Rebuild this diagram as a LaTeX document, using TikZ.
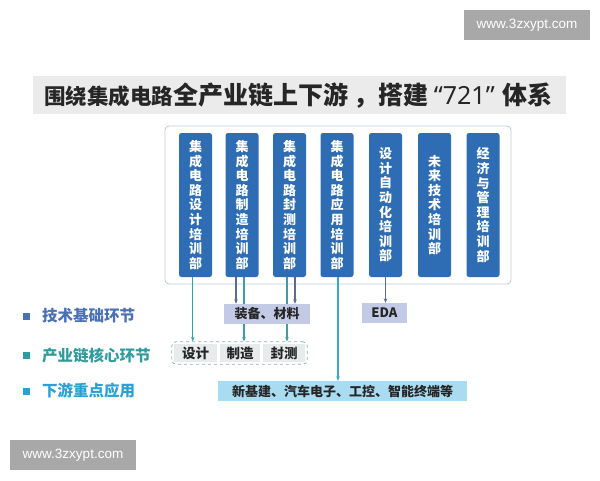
\documentclass[tikz,border=0pt]{standalone}
\usepackage{fontspec}
\setmainfont{Noto Sans CJK SC}
\newfontfamily\wmfont{Liberation Sans}
\newfontfamily\latinb{Noto Sans}
\usetikzlibrary{arrows.meta,fit,backgrounds}
\definecolor{colBlue}{HTML}{2E6DB3}
\definecolor{frameGray}{HTML}{C5CDD3}
\definecolor{tealLine}{HTML}{3B9EA6}
\definecolor{slateLine}{HTML}{5B6C8E}
\definecolor{cyanLine}{HTML}{36A8C8}
\definecolor{eqFill}{HTML}{C3CAE6}
\definecolor{appFill}{HTML}{A9DCF1}
\definecolor{cellFill}{HTML}{E6ECEB}
\definecolor{dashCol}{HTML}{8CB3B3}
\definecolor{labA}{HTML}{4A70B5}
\definecolor{labB}{HTML}{2E9B9E}
\definecolor{labC}{HTML}{2BA0D6}
\definecolor{wmGray}{HTML}{A8A8A8}
\definecolor{titleBand}{HTML}{EBEBEB}
\definecolor{darkText}{HTML}{262626}
\tikzset{
  colbox/.style={fill=colBlue, rounded corners=2.5pt, minimum width=33pt, minimum height=144pt,
    inner sep=0pt, text=white, font=\bfseries\fontsize{13}{14.6}\selectfont, align=center, text width=20pt},
  lowbox/.style={inner sep=0pt, minimum height=20pt, text=darkText, font=\bfseries\fontsize{13}{15}\selectfont},
  cellbox/.style={fill=cellFill, inner sep=0pt, minimum height=18pt, text=darkText, font=\bfseries\fontsize{13.5}{15}\selectfont},
  sq/.style={minimum size=7pt, inner sep=0pt},
  lab/.style={anchor=west, inner sep=0pt, font=\bfseries\fontsize{15.5}{17}\selectfont},
  wm/.style={fill=wmGray, minimum width=126pt, minimum height=30pt, inner sep=0pt, text=white, font=\wmfont\fontsize{13.5}{15}\selectfont},
  conn/.style={line width=1.2pt, -{Stealth[length=4.5pt,width=3.6pt]}},
}
\begin{document}
\begin{tikzpicture}[x=1pt,y=-1pt]
\useasboundingbox (0,0) rectangle (600,480);
% watermarks
\node[wm] (wmtop) at (527,25) {www.3zxypt.com};
\node[wm] (wmbot) at (73,455) {www.3zxypt.com};
% title
\node[fill=titleBand, minimum width=533pt, minimum height=38pt, inner sep=0pt] (band) at (299.5,94.5) {};
\node[anchor=west, inner sep=0pt, text=darkText, font=\bfseries] (title) at (44,96)
  {{\fontsize{21.5}{24}\selectfont 围绕集成电路}{\fontsize{25}{28}\selectfont 全产业链上下游 ，搭建\hspace{5pt}{\latinb\bfseries “721”}\hspace{8pt}体系}};
% columns
\node[colbox] (c1) at (195.5,205) {集\\成\\电\\路\\设\\计\\培\\训\\部};
\node[colbox] (c2) at (242,205) {集\\成\\电\\路\\制\\造\\培\\训\\部};
\node[colbox] (c3) at (289.5,205) {集\\成\\电\\路\\封\\测\\培\\训\\部};
\node[colbox] (c4) at (337,205) {集\\成\\电\\路\\应\\用\\培\\训\\部};
\node[colbox] (c5) at (385.5,205) {设\\计\\自\\动\\化\\培\\训\\部};
\node[colbox] (c6) at (434.5,205) {未\\来\\技\\术\\培\\训\\部};
\node[colbox] (c7) at (483,205) {经\\济\\与\\管\\理\\培\\训\\部};
% lower boxes
\node[lowbox, fill=eqFill, minimum width=86pt] (eq) at (267,314) {装备、材料};
\node[lowbox, fill=eqFill, minimum width=45pt] (eda) at (384.5,313) {EDA};
\node[cellbox, minimum width=43pt] (d1) at (195.5,353) {设计};
\node[cellbox, minimum width=40pt] (d2) at (240,353) {制造};
\node[cellbox, minimum width=42pt] (d3) at (284,353) {封测};
\node[lowbox, fill=appFill, minimum width=249pt] (app) at (342.5,391) {新基建、汽车电子、工控、智能终端等};
% legend
\node[sq, fill=labA] (s1) at (26,316) {};
\node[sq, fill=labB] (s2) at (26,355) {};
\node[sq, fill=labC] (s3) at (26,391) {};
\node[lab, text=labA] (l1) at (42,316) {技术基础环节};
\node[lab, text=labB] (l2) at (42,356) {产业链核心环节};
\node[lab, text=labC] (l3) at (42,391) {下游重点应用};
\begin{pgfonlayer}{background}
\node[draw=frameGray, line width=0.9pt, fill=white, rounded corners=4pt, inner sep=0pt,
  minimum width=346pt, minimum height=158pt] (frame) at (338,205) {};
\node[draw=dashCol, dashed, line width=0.8pt, fill=white, rounded corners=4pt, inner sep=2pt, fit=(d1)(d3)] (core) {};
\draw[conn, tealLine] ([xshift=-2.8pt]c1.south) -- ([xshift=-2.8pt]c1.south |- core.north);
\draw[conn, slateLine] ([xshift=-6pt]c2.south) -- ([xshift=-6pt]c2.south |- eq.north);
\draw[conn, tealLine] ([xshift=2pt]c2.south) -- ([xshift=2pt]c2.south |- core.north);
\draw[conn, tealLine] ([xshift=-2.5pt]c3.south) -- ([xshift=-2.5pt]c3.south |- core.north);
\draw[conn, slateLine] ([xshift=5.5pt]c3.south) -- ([xshift=5.5pt]c3.south |- eq.north);
\draw[conn, cyanLine] ([xshift=1pt]c4.south) -- ([xshift=1pt]c4.south |- app.north);
\draw[conn, slateLine] (c5.south) -- (c5.south |- eda.north);
\end{pgfonlayer}
\end{tikzpicture}
\end{document}
